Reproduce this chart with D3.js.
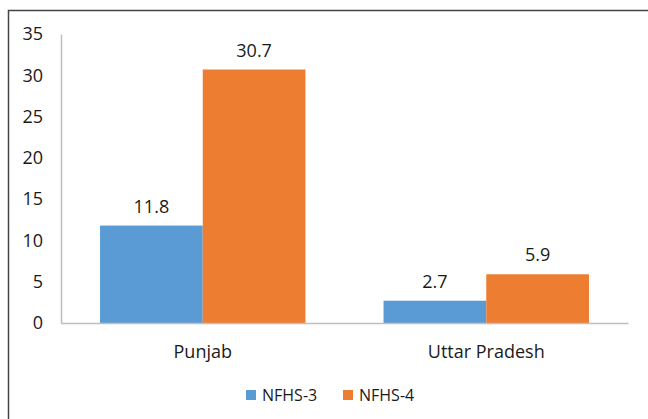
<html>
<head>
<script src="https://d3js.org/d3.v7.min.js"></script>
<style>
  body { margin: 0; background: #fff; }
  text { font-family: "Open Sans", sans-serif; fill: #1a1a1a; }
</style>
</head>
<body>
<script>
var categories = ["Punjab", "Uttar Pradesh"];
var seriesNames = ["NFHS-3", "NFHS-4"];
var nfhs3 = [11.8, 2.7];
var nfhs4 = [30.7, 5.9];
var yTicks = [0, 5, 10, 15, 20, 25, 30, 35];
var colors = ["#5B9BD5", "#ED7D31"];

var width = 648, height = 419;
var margin = {top: 34, right: 20, bottom: 96, left: 61};

var svg = d3.select("body").append("svg")
    .attr("width", width)
    .attr("height", height);

// outer chart frame (runs off the right and bottom edges)
svg.append("rect")
    .attr("x", 8.5).attr("y", 10.5)
    .attr("width", 700).attr("height", 500)
    .attr("fill", "none")
    .attr("stroke", "#444")
    .attr("stroke-width", 1.5);

var x = d3.scaleBand()
    .domain(categories)
    .range([margin.left, 628]);

var x1 = d3.scaleBand()
    .domain(seriesNames)
    .range([0, x.bandwidth()])
    .paddingInner(0)
    .paddingOuter(0.38);

var y = d3.scaleLinear()
    .domain([0, 35])
    .range([323, margin.top]);

var rows = categories.map((c, i) => ({cat: c, vals: [nfhs3[i], nfhs4[i]]}));

var groups = svg.selectAll("g.cat")
    .data(rows).enter()
    .append("g")
    .attr("class", "cat")
    .attr("transform", d => "translate(" + x(d.cat) + ",0)");

groups.selectAll("rect")
    .data(d => d.vals.map((v, j) => ({key: seriesNames[j], v: v, j: j})))
    .enter().append("rect")
    .attr("x", d => x1(d.key))
    .attr("y", d => y(d.v))
    .attr("width", x1.bandwidth())
    .attr("height", d => y(0) - y(d.v))
    .attr("fill", d => colors[d.j]);

groups.selectAll("text.val")
    .data(d => d.vals.map((v, j) => ({key: seriesNames[j], v: v})))
    .enter().append("text")
    .attr("class", "val")
    .attr("x", d => x1(d.key) + x1.bandwidth() / 2)
    .attr("y", d => y(d.v) - 13)
    .attr("text-anchor", "middle")
    .attr("font-size", 18)
    .text(d => d.v);

// y axis
var yAxis = svg.append("g")
    .attr("transform", "translate(" + margin.left + ",0)")
    .call(d3.axisLeft(y).tickValues(yTicks).tickSize(0).tickPadding(18));
yAxis.select(".domain").attr("stroke", "#bfbfbf").attr("stroke-width", 1.5);
yAxis.selectAll("text").attr("font-size", 18).style("font-family", "Open Sans");

// x axis
var xAxis = svg.append("g")
    .attr("transform", "translate(0," + y(0) + ")")
    .call(d3.axisBottom(x).tickSize(0).tickPadding(22));
xAxis.select(".domain").attr("stroke", "#bfbfbf").attr("stroke-width", 1.5);
xAxis.selectAll("text").attr("font-size", 18).style("font-family", "Open Sans");

// legend
var legendX = [246, 343];
var legend = svg.selectAll("g.leg")
    .data(seriesNames).enter()
    .append("g")
    .attr("class", "leg")
    .attr("transform", (d, i) => "translate(" + legendX[i] + ",390)");
legend.append("rect")
    .attr("width", 10).attr("height", 10)
    .attr("fill", (d, i) => colors[i]);
legend.append("text")
    .attr("x", 16).attr("y", 11)
    .attr("font-size", 16)
    .text(d => d);
</script>
</body>
</html>
